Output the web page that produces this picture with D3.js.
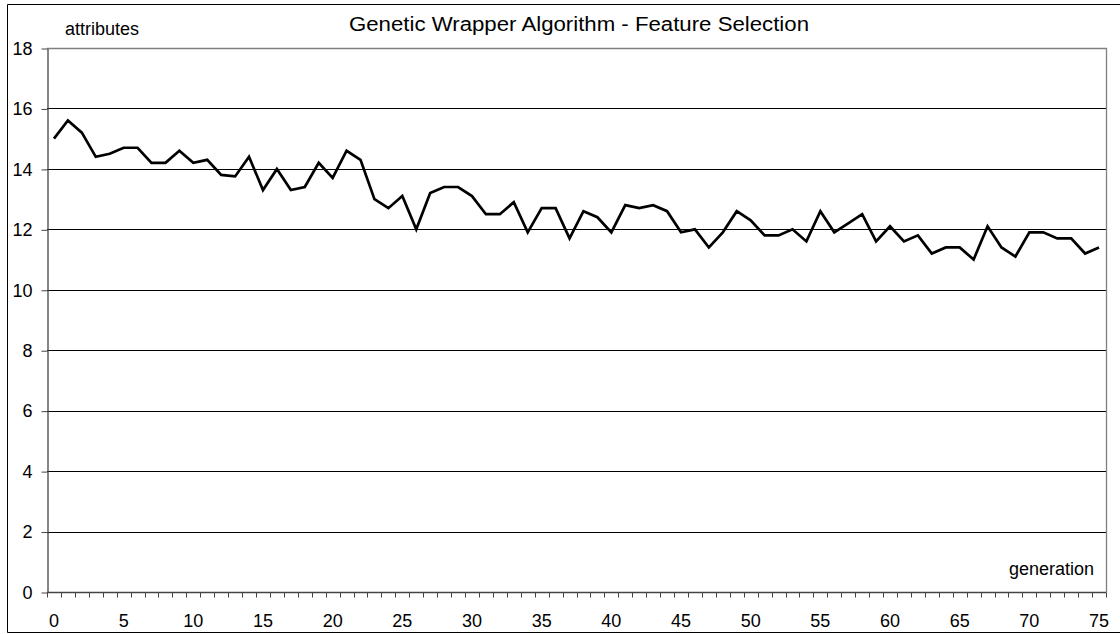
<!DOCTYPE html>
<html>
<head>
<meta charset="utf-8">
<script src="https://cdn.jsdelivr.net/npm/d3@7"></script>
<style>
  html, body { margin: 0; padding: 0; background: #fff; }
  svg { display: block; font-family: "Liberation Sans", Arial, sans-serif; }
</style>
</head>
<body>
<svg id="chart" width="1120" height="634"></svg>
<script>
const title = "Genetic Wrapper Algorithm - Feature Selection";
const yAxisLabel = "attributes";
const xAxisLabel = "generation";
const generations = d3.range(0, 76);
const attributes = [
  15.0, 15.6, 15.2, 14.4, 14.5, 14.7, 14.7, 14.2, 14.2, 14.6,
  14.2, 14.3, 13.8, 13.75, 14.4, 13.3, 14.0, 13.3, 13.4, 14.2,
  13.7, 14.6, 14.3, 13.0, 12.7, 13.1, 12.0, 13.2, 13.4, 13.4,
  13.1, 12.5, 12.5, 12.9, 11.9, 12.7, 12.7, 11.7, 12.6, 12.4,
  11.9, 12.8, 12.7, 12.8, 12.6, 11.9, 12.0, 11.4, 11.9, 12.6,
  12.3, 11.8, 11.8, 12.0, 11.6, 12.6, 11.9, 12.2, 12.5, 11.6,
  12.1, 11.6, 11.8, 11.2, 11.4, 11.4, 11.0, 12.1, 11.4, 11.1,
  11.9, 11.9, 11.7, 11.7, 11.2, 11.4
];
const yTicks = [0, 2, 4, 6, 8, 10, 12, 14, 16, 18];
const xTickLabels = [0, 5, 10, 15, 20, 25, 30, 35, 40, 45, 50, 55, 60, 65, 70, 75];

(function () {
const svg = d3.select("#chart");
const pLeft = 47, pRight = 1106, pTop = 48, pBottom = 592;

// outer frame
svg.append("path")
  .attr("d", "M1120,4.5 H7.5 V632.5 H1120")
  .attr("fill", "none").attr("stroke", "#000").attr("stroke-width", 1);

const x = d3.scaleBand().domain(generations).range([pLeft, pRight]).padding(0);
const y = d3.scaleLinear().domain([0, 18]).range([pBottom, pTop]);

// gridlines
svg.append("g").selectAll("line").data(yTicks.filter(d => d > 0 && d < 18)).join("line")
  .attr("x1", pLeft).attr("x2", pRight)
  .attr("y1", d => Math.round(y(d)) + 0.5).attr("y2", d => Math.round(y(d)) + 0.5)
  .attr("stroke", "#000").attr("stroke-width", 1);

// plot border top/right (gray)
svg.append("path")
  .attr("d", `M${pLeft},${Math.round(pTop)+0.5} H${pRight+0.5} V${pBottom}`)
  .attr("fill", "none").attr("stroke", "#808080").attr("stroke-width", 1.3);

// y axis
const yAxis = d3.axisLeft(y).tickValues(yTicks).tickSize(6).tickSizeOuter(0).tickPadding(9);
const gy = svg.append("g").attr("transform", `translate(${pLeft + 0.5},0.5)`).call(yAxis);
gy.select(".domain").attr("stroke", "#444").attr("stroke-width", 1.3);
gy.selectAll(".tick line").attr("stroke", "#444");
gy.selectAll(".tick text").attr("font-size", 18).attr("fill", "#000")
  .attr("font-family", "Liberation Sans, Arial, sans-serif");

// x axis with ticks at category boundaries
const boundaries = d3.range(0, 77);
const xb = d3.scaleLinear().domain([0, 76]).range([pLeft, pRight]);
const gx = svg.append("g").attr("transform", `translate(0,${pBottom + 0.5})`);
gx.append("line").attr("x1", pLeft).attr("x2", pRight + 0.5).attr("y1", 0).attr("y2", 0)
  .attr("stroke", "#444").attr("stroke-width", 1.3);
gx.selectAll("line.tk").data(boundaries).join("line").attr("class", "tk")
  .attr("x1", d => Math.round(xb(d)) + 0.5).attr("x2", d => Math.round(xb(d)) + 0.5)
  .attr("y1", 0).attr("y2", 5).attr("stroke", "#444").attr("stroke-width", 1);
gx.selectAll("text").data(xTickLabels).join("text")
  .attr("x", d => x(d) + x.bandwidth() / 2)
  .attr("y", 34)
  .attr("text-anchor", "middle")
  .attr("font-size", 18)
  .attr("fill", "#000")
  .text(d => d);

// line
const line = d3.line()
  .x((d, i) => x(generations[i]) + x.bandwidth() / 2)
  .y(d => y(d));
svg.append("path").datum(attributes)
  .attr("d", line)
  .attr("fill", "none").attr("stroke", "#000").attr("stroke-width", 2.7)
  .attr("stroke-linejoin", "miter");

// labels
svg.append("text").attr("x", 65).attr("y", 35).attr("font-size", 18).attr("fill", "#000").text(yAxisLabel);
svg.append("text").attr("x", 1094).attr("y", 575).attr("text-anchor", "end").attr("font-size", 18).attr("fill", "#000").text(xAxisLabel);
svg.append("text").attr("x", 579).attr("y", 31).attr("text-anchor", "middle").attr("font-size", 20)
  .attr("fill", "#000").attr("textLength", 460).attr("lengthAdjust", "spacingAndGlyphs").text(title);
})();
</script>
</body>
</html>
